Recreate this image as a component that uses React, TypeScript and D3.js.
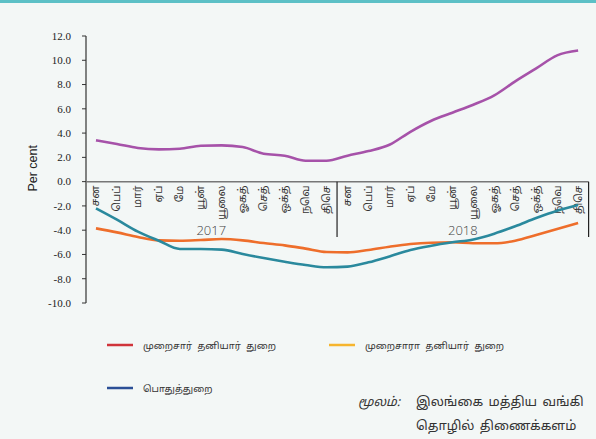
import React from "react";
import * as d3 from "d3";

const months = ["சன", "பெப்", "மார்", "ஏப்", "மே", "யூன்", "யூலை", "ஓகத்", "செத்", "ஒக்த்", "நவெ", "திசெ"];
const years = ["2017", "2018"];
const categories = years.flatMap((y) => months.map((m) => `${m}-${y}`));

const purpleSeries = [3.4, 3.1, 2.77, 2.66, 2.71, 2.96, 2.99, 2.85, 2.3, 2.14, 1.72, 1.72, 2.14, 2.52, 3.04, 4.11, 5.02, 5.68, 6.34, 7.11, 8.26, 9.33, 10.4, 10.8];
const orangeSeries = [-3.85, -4.18, -4.56, -4.84, -4.87, -4.81, -4.73, -4.84, -5.06, -5.25, -5.52, -5.8, -5.83, -5.63, -5.36, -5.14, -5.03, -5.0, -5.08, -5.08, -4.87, -4.4, -3.9, -3.41];
const tealSeries = [-2.2, -3.13, -4.12, -4.87, -5.55, -5.55, -5.6, -5.96, -6.3, -6.6, -6.87, -7.06, -7.0, -6.65, -6.16, -5.63, -5.28, -5.0, -4.76, -4.29, -3.68, -3.0, -2.4, -1.93];
const yTicks = [12, 10, 8, 6, 4, 2, 0, -2, -4, -6, -8, -10];

const legendItems = [
  { label: "முறைசார் தனியார் துறை", color: "#d0343b" },
  { label: "முறைசாரா தனியார் துறை", color: "#f6b52e" },
  { label: "பொதுத்துறை", color: "#2b4f96" },
];

const W = 596;
const H = 439;

export default function App() {
  const x = d3.scalePoint<string>().domain(categories).range([85.5, 588.6]).padding(0.5);
  const y = d3.scaleLinear().domain([-10, 12]).range([303, 36]);
  const step = x.step();
  const line = d3
    .line<number>()
    .x((_, i) => x(categories[i]) as number)
    .y((d) => y(d))
    .curve(d3.curveMonotoneX);

  const yearBounds = years.map((yr, k) => {
    const first = x(categories[k * 12]) as number;
    const last = x(categories[k * 12 + 11]) as number;
    return { yr, x0: first - step / 2, x1: last + step / 2 };
  });

  const tamil = "'Noto Sans Tamil', 'Lohit Tamil', 'Noto Sans', 'DejaVu Sans', sans-serif";
  const sans = "'Open Sans', 'Noto Sans', 'DejaVu Sans', sans-serif";
  return (
    <svg width={W} height={H} style={{ position: "absolute", left: 0, top: 0 }}>
      <rect x={0} y={0} width={W} height={H} fill="#f3f7f6" />
      <rect x={0} y={0} width={W} height={3} fill="#5cc0c6" />

      {/* y axis */}
      <line x1={86} x2={86} y1={y(12)} y2={y(-10)} stroke="#333" strokeWidth={1.2} />
      {yTicks.map((t) => (
        <g key={t}>
          <line x1={82} x2={86} y1={y(t)} y2={y(t)} stroke="#333" strokeWidth={1} />
          <text x={71} y={y(t)} dy="0.35em" textAnchor="end" fontFamily="'Liberation Serif', serif" fontSize={11} fill="#222">
            {t.toFixed(1)}
          </text>
        </g>
      ))}
      <text
        transform={`translate(37, ${y(1.1)}) rotate(-90)`}
        textAnchor="middle"
        fontFamily="'Liberation Sans', Arial, sans-serif"
        fontSize={12.5}
        fill="#222"
      >
        Per cent
      </text>

      {/* x axis */}
      <line x1={86} x2={588.6} y1={y(0)} y2={y(0)} stroke="#777" strokeWidth={1.5} />
      {categories.map((c, i) => (
        <text
          key={c}
          transform={`translate(${(x(c) as number) + 3.5}, ${y(0) + 4}) rotate(-90)`}
          textAnchor="end"
          fontFamily={tamil}
          fontSize={10.5}
          fill="#333"
        >
          {months[i % 12]}
        </text>
      ))}
      {yearBounds.map((b) => (
        <g key={b.yr}>
          <line x1={b.x1} x2={b.x1} y1={y(0)} y2={237} stroke="#222" strokeWidth={1.2} />
          <text x={(b.x0 + b.x1) / 2} y={235} textAnchor="middle" fontFamily={sans} fontWeight={300} fontSize={13} fill="#444">
            {b.yr}
          </text>
        </g>
      ))}

      {/* lines */}
      <path d={line(purpleSeries) || ""} fill="none" stroke="#a652a9" strokeWidth={2.6} />
      <path d={line(orangeSeries) || ""} fill="none" stroke="#ee6e2b" strokeWidth={2.6} />
      <path d={line(tealSeries) || ""} fill="none" stroke="#2a899d" strokeWidth={2.6} />

      {/* legend */}
      {legendItems.map((it, i) => {
        const lx = i === 1 ? 329 : 107;
        const ly = i === 2 ? 388 : 345;
        return (
          <g key={it.label}>
            <line x1={lx} x2={lx + 26} y1={ly} y2={ly} stroke={it.color} strokeWidth={2.5} />
            <text x={lx + 36} y={ly + 4} fontFamily={tamil} fontSize={9.5} wordSpacing={3} fill="#333">
              {it.label}
            </text>
          </g>
        );
      })}

      {/* source */}
      <text x={358} y={406} fontFamily={tamil} fontSize={12.5} fontStyle="italic" fill="#333">
        மூலம்:
      </text>
      <text x={416} y={406} fontFamily={tamil} fontSize={13} wordSpacing={2} fill="#333">
        இலங்கை மத்திய வங்கி
      </text>
      <text x={416} y={430} fontFamily={tamil} fontSize={13} wordSpacing={2} fill="#333">
        தொழில் திணைக்களம்
      </text>
    </svg>
  );
}
